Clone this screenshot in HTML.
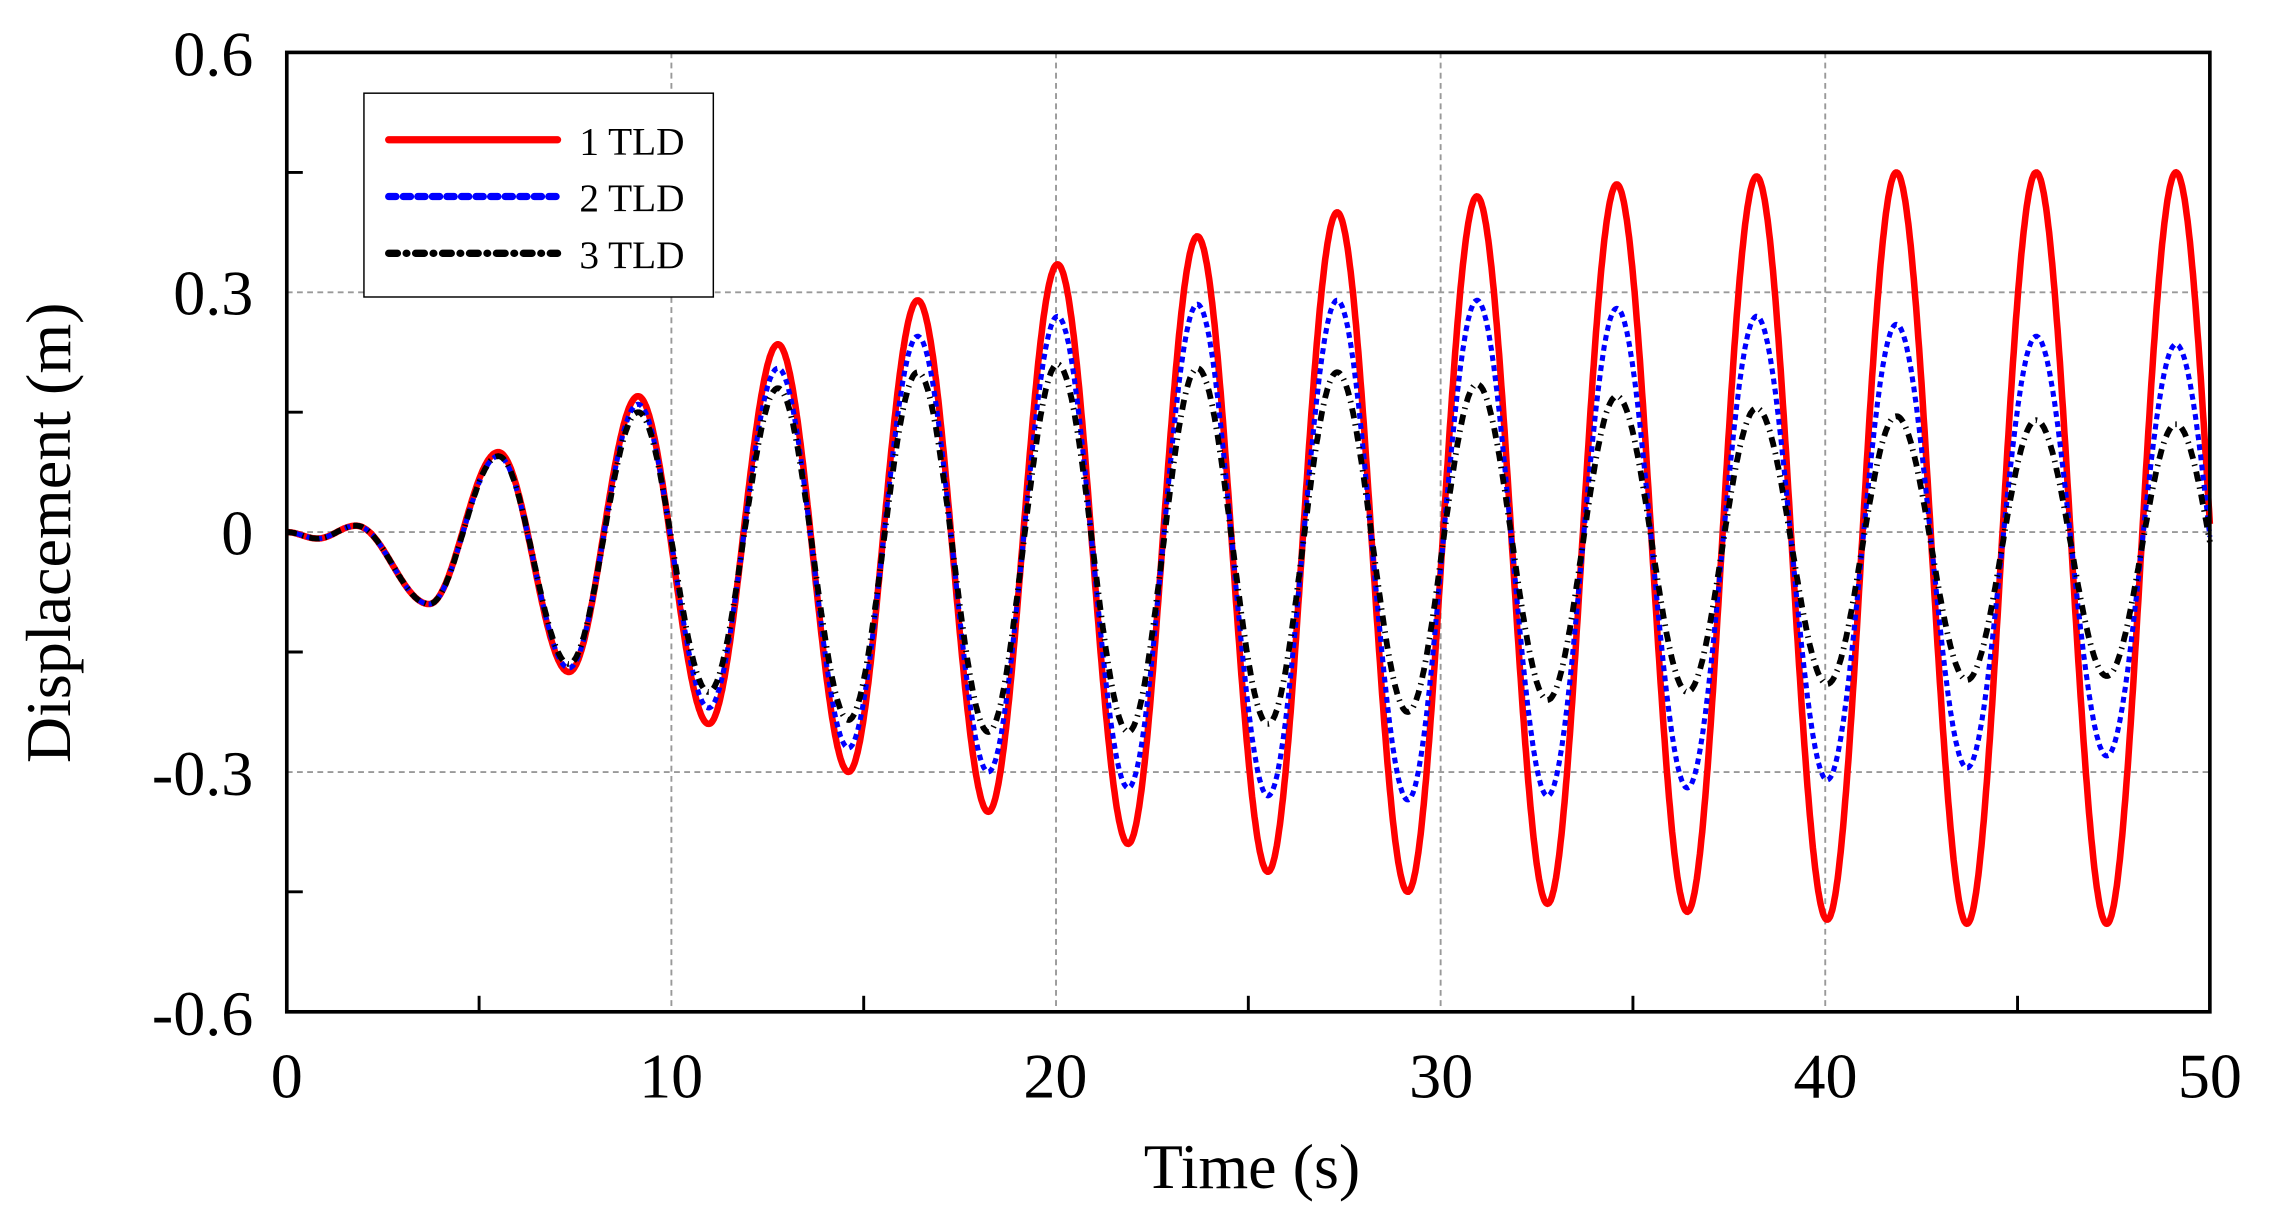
<!DOCTYPE html>
<html><head><meta charset="utf-8"><style>
html,body{margin:0;padding:0;background:#fff;}
svg{display:block;}
text{font-family:"Liberation Serif",serif;fill:#000;}
</style></head><body>
<svg id="s" width="2271" height="1220" viewBox="0 0 1560 838" preserveAspectRatio="none" xmlns="http://www.w3.org/2000/svg">
<rect x="0" y="0" width="1560" height="838" fill="#fff"/>
<g stroke="#999" stroke-width="1.3" stroke-dasharray="4,3">
<line x1="461.2" y1="36" x2="461.2" y2="695"/><line x1="725.4" y1="36" x2="725.4" y2="695"/>
<line x1="989.6" y1="36" x2="989.6" y2="695"/><line x1="1253.8" y1="36" x2="1253.8" y2="695"/>
<line x1="197" y1="200.8" x2="1518" y2="200.8"/><line x1="197" y1="365.5" x2="1518" y2="365.5"/>
<line x1="197" y1="530.3" x2="1518" y2="530.3"/>
</g>
<g id="curves"></g>
<rect x="197" y="36" width="1321" height="659" fill="none" stroke="#000" stroke-width="2.5"/>
<g stroke="#000" stroke-width="2" id="ticks"></g>
<g font-size="44" text-anchor="end">
<text x="174" y="52">0.6</text><text x="174" y="216">0.3</text><text x="174" y="381">0</text>
<text x="174" y="546">-0.3</text><text x="174" y="711">-0.6</text>
</g>
<g font-size="44" text-anchor="middle">
<text x="197" y="754">0</text><text x="461" y="754">10</text><text x="725" y="754">20</text>
<text x="990" y="754">30</text><text x="1254" y="754">40</text><text x="1518" y="754">50</text>
</g>
<text x="860" y="816" font-size="44" text-anchor="middle">Time (s)</text>
<text transform="translate(48,366) rotate(-90)" font-size="44" text-anchor="middle">Displacement (m)</text>
<rect x="250" y="64" width="240" height="140" fill="#fff" stroke="#000" stroke-width="1"/>
<line x1="267" y1="96" x2="383" y2="96" stroke="#f00" stroke-width="5" stroke-linecap="round"/>
<line x1="267" y1="135" x2="383" y2="135" stroke="#00f" stroke-width="5" stroke-linecap="round" stroke-dasharray="5,5"/>
<line x1="267" y1="174" x2="383" y2="174" stroke="#000" stroke-width="5" stroke-linecap="round" stroke-dasharray="6,6,0.5,6"/>
<g font-size="27"><text x="398" y="106">1 TLD</text><text x="398" y="145">2 TLD</text><text x="398" y="184">3 TLD</text></g>
</svg>
<script>
(function(){
var X=function(t){return 197+t*26.42;},Y=function(v){return 365.5-v*549;};
var tk=document.getElementById('ticks'),h='';
for(var t=5;t<50;t+=10){h+='<line x1="'+X(t)+'" y1="695" x2="'+X(t)+'" y2="684"/>';}
for(var v=-0.45;v<0.6;v+=0.3){h+='<line x1="197" y1="'+Y(v)+'" x2="208" y2="'+Y(v)+'"/>';}
tk.innerHTML=h;
var P=3.635;
var S=[
{c:'#f00',w:4.5,d:'',pk:[0.1,0.17,0.235,0.29,0.335,0.37,0.4,0.42,0.435,0.445,0.45,0.45,0.45,0.45],tr:[-0.09,-0.175,-0.24,-0.3,-0.35,-0.39,-0.425,-0.45,-0.465,-0.475,-0.485,-0.49,-0.49,-0.49]},
{c:'#00f',w:3.5,d:'4,3',pk:[0.095,0.16,0.205,0.245,0.27,0.285,0.29,0.29,0.28,0.27,0.26,0.245,0.235,0.23],tr:[-0.09,-0.17,-0.22,-0.27,-0.3,-0.32,-0.33,-0.335,-0.33,-0.32,-0.31,-0.295,-0.28,-0.28]},
{c:'#000',w:4,d:'7,4,1,4',pk:[0.095,0.15,0.18,0.2,0.21,0.205,0.2,0.185,0.17,0.155,0.145,0.14,0.135,0.13],tr:[-0.09,-0.165,-0.2,-0.235,-0.25,-0.25,-0.24,-0.225,-0.21,-0.2,-0.19,-0.185,-0.18,-0.18]}];
var g=document.getElementById('curves'),out='';
S.forEach(function(s){
var E=[[0,0],[0.8,-0.008],[1.8,0.008]];
for(var k=0;k<14;k++){E.push([3.7+P*k,s.tr[k]]);E.push([5.5+P*k,s.pk[k]]);}
var pts=[];
for(var t=0;t<=50.001;t+=0.02){
for(var i=0;i<E.length-1;i++){if(t>=E[i][0]&&t<=E[i+1][0])break;}
var a=E[i],b=E[i+1],f=(t-a[0])/(b[0]-a[0]);
var v=a[1]+(b[1]-a[1])*(1-Math.cos(Math.PI*f))/2;
pts.push(X(t).toFixed(1)+','+Y(v).toFixed(1));}
out+='<polyline fill="none" stroke="'+s.c+'" stroke-width="'+s.w+'" '+(s.d?'stroke-dasharray="'+s.d+'" ':'')+'points="'+pts.join(' ')+'"/>';
});
g.innerHTML=out;
})();
</script>
</body></html>
